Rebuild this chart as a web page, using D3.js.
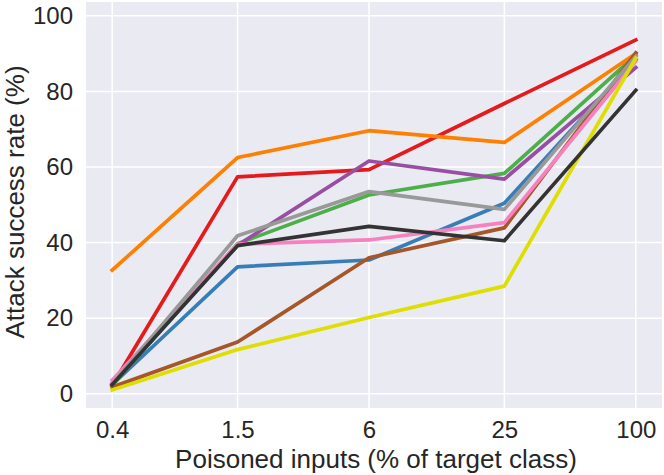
<!DOCTYPE html>
<html>
<head>
<meta charset="utf-8">
<script src="https://cdn.jsdelivr.net/npm/d3@7"></script>
<style>
  html, body { margin: 0; padding: 0; background: #fff; }
  text { font-family: "Liberation Sans", Arial, sans-serif; fill: #262626; }
</style>
</head>
<body>
<div id="chart"></div>
<script>
(() => {
  "use strict";

  // x categories (log-spaced), y ticks
  const xTicks = [0.4, 1.5, 6, 25, 100];
  const xTickLabels = ["0.4", "1.5", "6", "25", "100"];
  const yTicks = [0, 20, 40, 60, 80, 100];

  // series, in draw order
  const red    = [2.2, 57.4, 59.3, 76.8, 93.6];
  const blue   = [2.4, 33.6, 35.4, 50.4, 88.5];
  const green  = [2.2, 39.7, 52.6, 58.3, 89.6];
  const purple = [2.8, 39.3, 61.6, 56.8, 86.3];
  const orange = [32.7, 62.5, 69.6, 66.5, 90.0];
  const brown  = [1.8, 13.7, 36.0, 43.9, 90.2];
  const pink   = [3.6, 39.6, 40.7, 45.3, 88.0];
  const gray   = [2.6, 41.8, 53.5, 48.8, 89.3];
  const black  = [2.4, 39.2, 44.3, 40.5, 80.3];
  const yellow = [1.0, 11.7, 20.2, 28.5, 88.8];

  const series = [
    {name: "red", color: "#e41a1c", values: red},
    {name: "blue", color: "#377eb8", values: blue},
    {name: "green", color: "#4daf4a", values: green},
    {name: "purple", color: "#984ea3", values: purple},
    {name: "orange", color: "#ff7f00", values: orange},
    {name: "brown", color: "#a65628", values: brown},
    {name: "pink", color: "#f781bf", values: pink},
    {name: "gray", color: "#999999", values: gray},
    {name: "yellow", color: "#dede00", values: yellow},
    {name: "black", color: "#333333", values: black}
  ];

  const width = 664, height = 475;
  const plot = {left: 86, right: 662, top: 2, bottom: 408};

  // matplotlib-style 5% margins on log axis
  const lo = Math.log10(xTicks[0]), hi = Math.log10(xTicks[xTicks.length - 1]);
  const pad = (hi - lo) * 0.05;
  const x = d3.scaleLog()
    .domain([Math.pow(10, lo - pad), Math.pow(10, hi + pad)])
    .range([plot.left, plot.right]);
  const y = d3.scaleLinear().domain([-3.75, 103.65]).range([plot.bottom, plot.top]);

  const svg = d3.select("#chart").append("svg")
    .attr("width", width).attr("height", height);

  svg.append("rect")
    .attr("x", plot.left).attr("y", plot.top)
    .attr("width", plot.right - plot.left).attr("height", plot.bottom - plot.top)
    .attr("fill", "#eaeaf2");

  const grid = svg.append("g").attr("stroke", "#fff").attr("stroke-width", 1.5);
  grid.selectAll("line.gx").data(xTicks).join("line")
    .attr("class", "gx")
    .attr("x1", d => x(d)).attr("x2", d => x(d))
    .attr("y1", plot.top).attr("y2", plot.bottom);
  grid.selectAll("line.gy").data(yTicks).join("line")
    .attr("class", "gy")
    .attr("x1", plot.left).attr("x2", plot.right)
    .attr("y1", d => y(d)).attr("y2", d => y(d));

  // axes: labels only, no domain line or tick marks
  const xAxis = d3.axisBottom(x).tickValues(xTicks)
    .tickFormat((d, i) => xTickLabels[i]).tickSize(0).tickPadding(13);
  const yAxis = d3.axisLeft(y).tickValues(yTicks).tickSize(0).tickPadding(13);

  const gx = svg.append("g").attr("transform", `translate(0,${plot.bottom})`).call(xAxis);
  const gy = svg.append("g").attr("transform", `translate(${plot.left},0)`).call(yAxis);
  [gx, gy].forEach(g => {
    g.select(".domain").remove();
    g.selectAll("text")
      .style("font-family", '"Liberation Sans", Arial, sans-serif')
      .style("font-size", "24px")
      .attr("fill", "#262626");
  });

  const line = d3.line()
    .x((d, i) => x(xTicks[i]))
    .y(d => y(d));

  svg.append("g").selectAll("path").data(series).join("path")
    .attr("fill", "none")
    .attr("stroke", d => d.color)
    .attr("stroke-width", 3.7)
    .attr("stroke-linecap", "square")
    .attr("stroke-linejoin", "round")
    .attr("d", d => line(d.values));

  svg.append("text")
    .attr("x", (plot.left + plot.right) / 2 + 2)
    .attr("y", 468)
    .attr("text-anchor", "middle")
    .style("font-size", "26px")
    .text("Poisoned inputs (% of target class)");

  svg.append("text")
    .attr("transform", `translate(24,${(plot.top + plot.bottom) / 2 - 3}) rotate(-90)`)
    .attr("text-anchor", "middle")
    .style("font-size", "26px")
    .text("Attack success rate (%)");
})();
</script>
</body>
</html>
